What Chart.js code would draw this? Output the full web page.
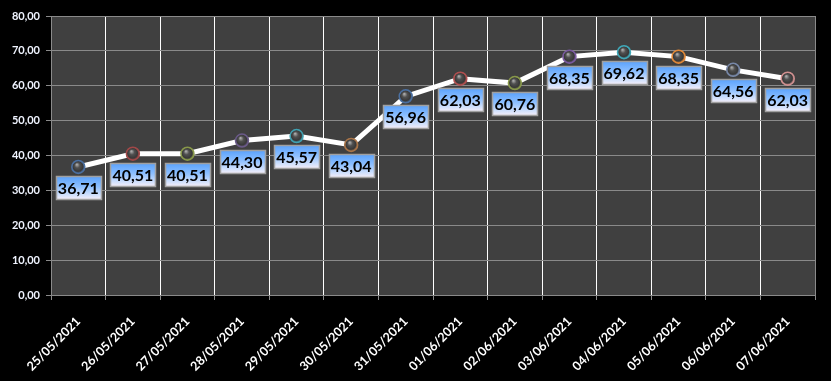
<!DOCTYPE html>
<html><head><meta charset="utf-8">
<script src="https://cdn.jsdelivr.net/npm/chart.js@4/dist/chart.umd.min.js"></script>
<style>html,body{margin:0;padding:0;background:#000;}#wrap{width:831px;height:381px;position:relative;}</style>
</head><body><div id="wrap"><canvas id="c"></canvas></div>
<script>
const categories = ["25/05/2021","26/05/2021","27/05/2021","28/05/2021","29/05/2021","30/05/2021","31/05/2021","01/06/2021","02/06/2021","03/06/2021","04/06/2021","05/06/2021","06/06/2021","07/06/2021"];
const values = [36.71,40.51,40.51,44.30,45.57,43.04,56.96,62.03,60.76,68.35,69.62,68.35,64.56,62.03];
const pointColors = ["#4a6fa0","#a04848","#88984a","#6a5a88","#40a0b0","#a87448","#4a6fa0","#b05050","#88984a","#7a5aa0","#40a8b8","#e08838","#7888a8","#d09090"];
const fmt = v => v.toFixed(2).replace('.', ',');

const plotBg = {
  id:'plotBg',
  beforeDraw(chart){
    const {ctx, chartArea:a} = chart;
    ctx.save(); ctx.fillStyle='#404040';
    ctx.fillRect(a.left,a.top,a.right-a.left,a.bottom-a.top);
    ctx.restore();
  },
  afterDatasetsDraw(chart){
    const {ctx, chartArea:a} = chart;
    ctx.save();
    ctx.strokeStyle='#8a8a8a'; ctx.lineWidth=1;
    ctx.beginPath(); ctx.moveTo(a.right+0.5,a.top); ctx.lineTo(a.right+0.5,a.bottom); ctx.stroke();
    ctx.restore();
  }
};

const labelsPlugin = {
  id:'boxLabels',
  afterDatasetsDraw(chart){
    const ctx = chart.ctx;
    const meta = chart.getDatasetMeta(0);
    ctx.save();
    ctx.font = 'bold 16px Lato, "Open Sans", sans-serif';
    ctx.textAlign='center'; ctx.textBaseline='middle';
    meta.data.forEach((pt,i)=>{
      const txt = fmt(values[i]);
      const w = 45, h = 23;
      const x = Math.round(pt.x - w/2)+0.5, y = Math.round(pt.y + 9)+0.5;
      const g = ctx.createLinearGradient(0,y,0,y+h);
      g.addColorStop(0,'#5aa2fc'); g.addColorStop(0.45,'#8ec0ff'); g.addColorStop(0.8,'#d0e0fc'); g.addColorStop(1,'#f6eef8');
      ctx.fillStyle=g; ctx.fillRect(x,y,w,h);
      ctx.strokeStyle='#a0a0a0'; ctx.lineWidth=1.5; ctx.strokeRect(x,y,w,h);
      ctx.fillStyle='#000'; ctx.fillText(txt, pt.x, y+h/2+1);
    });
    ctx.restore();
  }
};

function sphere(context){
  const chart = context.chart;
  const i = context.dataIndex;
  const xs = chart.scales.x, ys = chart.scales.y;
  if (!xs || !ys || i === undefined) return '#444';
  const x = xs.getPixelForValue(i), y = ys.getPixelForValue(values[i]);
  if (!isFinite(x) || !isFinite(y)) return '#444';
  const g = chart.ctx.createRadialGradient(x-1.5,y-2.5,0.5,x,y,6.5);
  g.addColorStop(0,'#a8a8a8'); g.addColorStop(0.35,'#505050'); g.addColorStop(0.75,'#383838'); g.addColorStop(1,pointColors[i]);
  return g;
}

new Chart(document.getElementById('c'), {
  type:'line',
  data:{ labels:categories, datasets:[{
    data:values, borderColor:'#ffffff', borderWidth:5, tension:0,
    pointRadius:6.5, pointHoverRadius:6.5, pointBorderWidth:1.5,
    pointBackgroundColor:sphere, pointBorderColor:pointColors
  }]},
  options:{
    responsive:true, maintainAspectRatio:false, animation:false,
    layout:{padding:{left:0,top:16,right:16,bottom:0}},
    plugins:{legend:{display:false}, tooltip:{enabled:false}},
    scales:{
      x:{
        offset:true,
        grid:{offset:true, color:'#ffffff', lineWidth:1, tickColor:'#8a8a8a', tickLength:5, drawOnChartArea:true},
        border:{color:'#8a8a8a'},
        ticks:{color:'#ffffff', maxRotation:45, minRotation:45, autoSkip:false, padding:14,
          font:{family:'Lato, "Open Sans", sans-serif', weight:'bold', size:12.5}},
        afterFit(s){ s.height = 86; }
      },
      y:{
        min:0, max:80,
        grid:{color:'#8a8a8a', lineWidth:1, tickColor:'#8a8a8a', tickLength:5},
        border:{color:'#8a8a8a'},
        ticks:{stepSize:10, color:'#f0f4ff', padding:6, callback:v=>fmt(v),
          font:{family:'Lato, "Open Sans", sans-serif', weight:'bold', size:11}},
        afterFit(s){ s.width = 51; }
      }
    }
  },
  plugins:[plotBg, labelsPlugin]
});
</script></body></html>
